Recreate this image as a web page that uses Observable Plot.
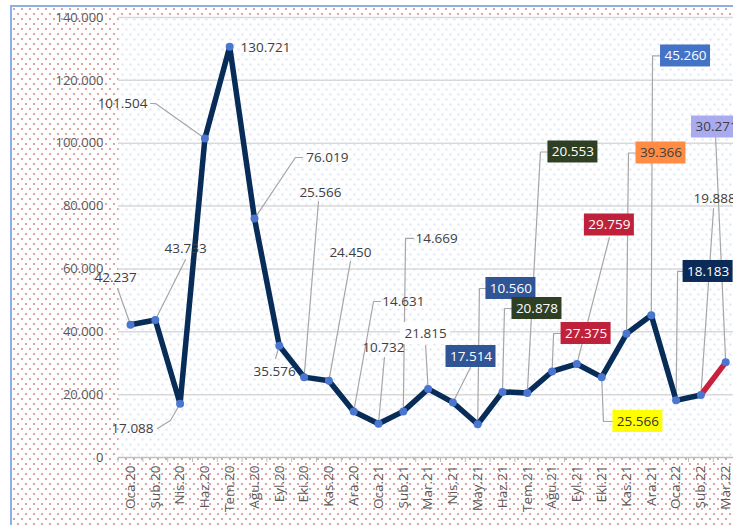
<!DOCTYPE html>
<html><head><meta charset="utf-8">
<script src="https://cdn.jsdelivr.net/npm/d3@7"></script>
<script src="https://cdn.jsdelivr.net/npm/@observablehq/plot@0.6"></script>
<style>
html,body{margin:0;padding:0;background:#fff;overflow:hidden;width:733px;height:525px}
#chart{position:absolute;left:10px;top:5px;width:721px;height:518px;
border-left:2px solid #8eaee6;border-top:2px solid #8eaee6;background-color:#fff;
background-image:radial-gradient(circle at 2px 2px, rgba(195,85,85,.55) 0.7px, transparent 1.2px),
radial-gradient(circle at 6px 7px, rgba(195,85,85,.55) 0.7px, transparent 1.2px);
background-size:8px 10px;}
</style></head><body><div id="chart"></div>
<script>
// ---- data ----
const months = ["Oca.20","Şub.20","Nis.20","Haz.20","Tem.20","Ağu.20","Eyl.20","Eki.20","Kas.20","Ara.20",
  "Oca.21","Şub.21","Mar.21","Nis.21","May.21","Haz.21","Tem.21","Ağu.21","Eyl.21","Eki.21","Kas.21","Ara.21",
  "Oca.22","Şub.22","Mar.22"];
const values = [42237,43733,17088,101504,130721,76019,35576,25566,24450,14631,
  10732,14669,21815,17514,10560,20878,20553,27375,29759,25566,39366,45260,
  18183,19888,30271];
const yTicks = [0,20000,40000,60000,80000,100000,120000,140000];

// ---- callout layout (label centre in data units, leader elbow points) ----
const labelX = [-0.60,2.22,0.08,-0.32,4.44,7.94,5.81,7.66,8.87,11.0,10.2,12.34,11.9,13.73,15.34,16.39,17.84,18.37,19.31,20.46,21.39,22.38,23.29,22.70,23.63];
const labelY = [57270,66500,9230,112640,130460,95460,27360,84320,65230,49640,35000,69690,39460,32140,53780,47410,97210,39460,73980,11450,96890,127760,59190,82410,105160];
const labelAnchor = ["middle","middle","middle","middle","start","middle","middle","middle","middle","middle","middle","middle","middle","middle","middle","middle","middle","middle","middle","middle","middle","middle","middle","start","middle"];
const leaderPaths = [
  [[-0.52,53770]],[[2.22,63000]],[[1.61,11770],[1.09,9230]],[[1.01,112640],[0.81,112640]],[],
  [[6.65,95460],[6.94,95460]],[[5.85,31500]],[[7.58,81460]],[[8.87,62370]],[[9.80,49640],[10.08,49640]],
  [[10.24,31820]],[[11.09,69690],[11.41,69690]],[[11.9,35640]],[[13.71,28640]],[[14.07,53780],[14.40,53780]],
  [[15.08,47410],[15.36,47410]],[[16.53,97210],[16.81,97210]],[[17.06,39460],[17.38,39460]],[[19.31,70000]],
  [[19.07,11450],[19.48,11450]],[[20.08,96890],[20.36,96890]],[[21.05,127760],[21.33,127760]],
  [[22.06,59190],[22.38,59190]],[[23.51,79230]],[[23.59,102460]]
];
const boxFill = [null,null,null,null,null,null,null,null,null,null,null,null,"#ffffff","#2f5597","#2f5597","#2e3f23","#2e3f23","#c0213a","#c0213a","#ffff00","#ff8c42","#4472c4","#0b2a55",null,"#aaaaf0"];
const textFill = ["#404040","#404040","#404040","#404040","#404040","#404040","#404040","#404040","#404040","#404040","#404040","#404040","#404040","#ffffff","#ffffff","#ffffff","#ffffff","#ffffff","#ffffff","#333333","#404040","#ffffff","#ffffff","#404040","#404040"];

// ---- derived tables ----
const fmt = d3.formatLocale({decimal:",",thousands:".",grouping:[3],currency:["",""]}).format(",d");
const rows = values.map((v,i)=>({i, v, month: months[i]}));
const labels = values.map((v,i)=>({i, lx: labelX[i], ly: labelY[i], text: fmt(v), anchor: labelAnchor[i], box: boxFill[i], color: textFill[i]}));
const leaders = [];
values.forEach((v,i)=>{
  if (!leaderPaths[i].length) return;
  leaders.push({id:i, x:i, y:v});
  leaderPaths[i].forEach(([x,y])=>leaders.push({id:i, x, y}));
});
const hw = 25/24.8, hh = 11*(140000/440);
const boxes = labels.filter(d=>d.box);
const edges = d3.range(-0.5, 25, 1);

const svg = Plot.plot({
  width: 721, height: 518,
  marginLeft: 106, marginRight: 0, marginTop: 10, marginBottom: 68,
  style: {fontFamily: "'Open Sans', sans-serif", background: "transparent", overflow: "visible"},
  x: {type: "linear", domain: [-0.5, 24.5], range: [105.6, 725.6]},
  y: {domain: [0, 140000]},
  color: {type: "identity"},
  marks: [
    Plot.frame({fill: "url(#bdots)", stroke: "none"}),
    Plot.ruleY(yTicks.filter(d=>d>0), {stroke: "#d9d9d9", strokeWidth: 1.5}),
    Plot.ruleY([0], {stroke: "#bfbfbf", strokeWidth: 1.5}),
    Plot.axisY(yTicks, {tickSize: 0, tickPadding: 15, tickFormat: fmt, fontSize: 13, fill: "#595959", label: null}),
    Plot.axisX(edges, {tickSize: 5, tickFormat: () => "", stroke: "#bfbfbf", label: null}),
    Plot.axisX(d3.range(months.length), {tickSize: 0, tickPadding: 8, tickRotate: -90, tickFormat: i => months[i], fontSize: 13.5, fill: "#595959", label: null}),
    Plot.line(leaders, {x: "x", y: "y", z: "id", stroke: "#a6a6a6", strokeWidth: 1.2}),
    Plot.line(rows.slice(0, 24), {x: "i", y: "v", stroke: "#082c58", strokeWidth: 5.5, strokeLinejoin: "round", strokeLinecap: "round"}),
    Plot.line(rows.slice(23), {x: "i", y: "v", stroke: "#c8213d", strokeWidth: 5.5, strokeLinecap: "round"}),
    Plot.dot(rows, {x: "i", y: "v", r: 4, fill: "#4a76d0", stroke: "none"}),
    Plot.rect(boxes, {x1: d => d.lx - hw, x2: d => d.lx + hw, y1: d => d.ly - hh, y2: d => d.ly + hh, fill: "box"}),
    Plot.text(labels.filter(d=>d.anchor==="middle"), {x: "lx", y: "ly", text: "text", fill: "color", fontSize: 13.5, textAnchor: "middle"}),
    Plot.text(labels.filter(d=>d.anchor==="start"), {x: "lx", y: "ly", text: "text", fill: "color", fontSize: 13.5, textAnchor: "start"})
  ]
});

const defs = d3.select(svg).insert("defs", ":first-child");
const p = defs.append("pattern").attr("id", "bdots").attr("width", 8).attr("height", 10).attr("patternUnits", "userSpaceOnUse");
p.append("rect").attr("width", 8).attr("height", 10).attr("fill", "#fff");
p.append("circle").attr("cx", 2).attr("cy", 2).attr("r", 0.7).attr("fill", "#9fb5e6");
p.append("circle").attr("cx", 6).attr("cy", 7).attr("r", 0.7).attr("fill", "#9fb5e6");
document.getElementById("chart").appendChild(svg);
</script>
</body></html>
